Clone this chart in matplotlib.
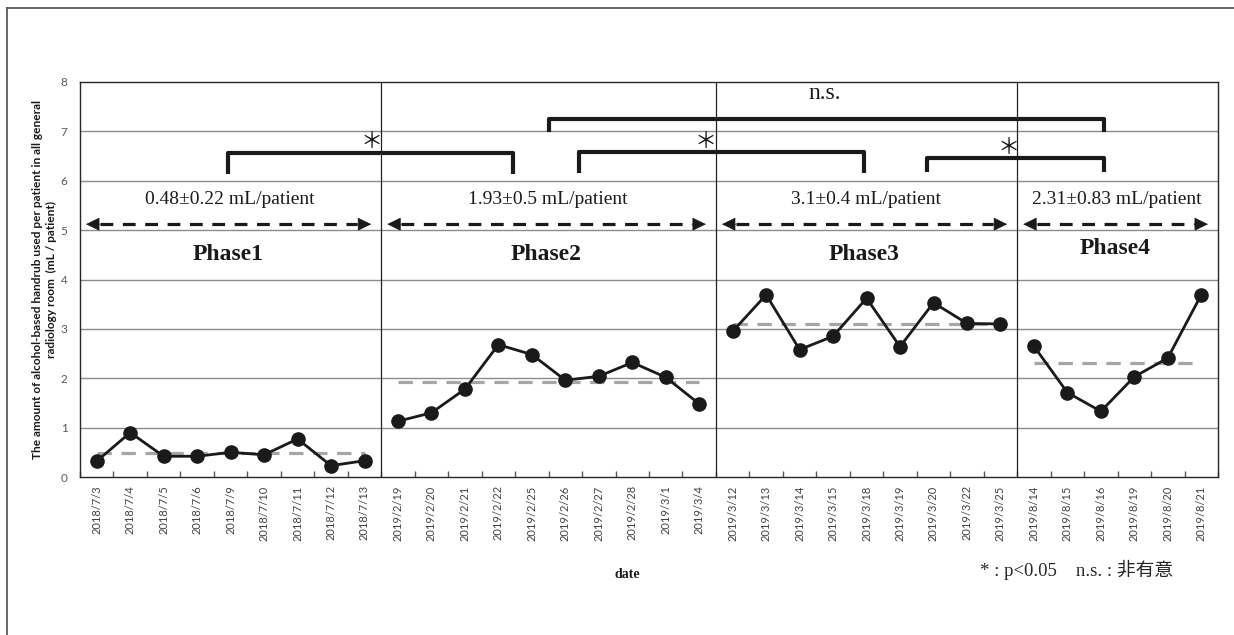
import matplotlib
matplotlib.use("Agg")
import matplotlib.pyplot as plt
import numpy as np

# ---- data -------------------------------------------------------------
phase1_dates = ["2018/7/3", "2018/7/4", "2018/7/5", "2018/7/6", "2018/7/9",
                "2018/7/10", "2018/7/11", "2018/7/12", "2018/7/13"]
phase1_values = [0.32, 0.90, 0.42, 0.42, 0.50, 0.45, 0.77, 0.23, 0.33]

phase2_dates = ["2019/2/19", "2019/2/20", "2019/2/21", "2019/2/22", "2019/2/25",
                "2019/2/26", "2019/2/27", "2019/2/28", "2019/3/1", "2019/3/4"]
phase2_values = [1.13, 1.30, 1.78, 2.68, 2.48, 1.96, 2.04, 2.32, 2.02, 1.48]

phase3_dates = ["2019/3/12", "2019/3/13", "2019/3/14", "2019/3/15", "2019/3/18",
                "2019/3/19", "2019/3/20", "2019/3/22", "2019/3/25"]
phase3_values = [2.95, 3.69, 2.58, 2.85, 3.62, 2.64, 3.53, 3.11, 3.10]

phase4_dates = ["2019/8/14", "2019/8/15", "2019/8/16", "2019/8/19", "2019/8/20",
                "2019/8/21"]
phase4_values = [2.65, 1.71, 1.33, 2.03, 2.41, 3.69]

phase_names = ["Phase1", "Phase2", "Phase3", "Phase4"]
phase_means = [0.48, 1.93, 3.1, 2.31]
phase_sds = [0.22, 0.5, 0.4, 0.83]
phase_stat_labels = ["0.48\u00b10.22 mL/patient", "1.93\u00b10.5 mL/patient",
                     "3.1\u00b10.4 mL/patient", "2.31\u00b10.83 mL/patient"]

ylabel_text = ("The amount of alcohol-based handrub used per patient in all general\n"
               "radiology room  (mL / patient)")
xlabel_text = "date"
note_text = "* : p<0.05    n.s. : \u975e\u6709\u610f"

# ---- figure -----------------------------------------------------------
fig = plt.figure(figsize=(12.34, 6.35), dpi=100)
ax = fig.add_axes([80 / 1234, 1 - 477 / 635, (1218 - 80) / 1234, (477 - 82) / 635])

dates = phase1_dates + phase2_dates + phase3_dates + phase4_dates
phases = [(phase1_dates, phase1_values), (phase2_dates, phase2_values),
          (phase3_dates, phase3_values), (phase4_dates, phase4_values)]

n = len(dates)
ax.set_xlim(-0.5, n - 0.5)
ax.set_ylim(0, 8)

# horizontal gridlines
for yv in range(1, 8):
    ax.axhline(yv, color="#8c8c8c", lw=1.0, zorder=1)

sans = ["Lato", "DejaVu Sans"]
serif = ["Liberation Serif", "Noto Sans CJK JP"]
cjk = ["Noto Sans CJK JP", "DejaVu Sans"]

start = 0
bounds = []
for (d, v) in phases:
    bounds.append((start - 0.5, start + len(d) - 0.5))
    start += len(d)

for k, ((d, v), (b0, b1)) in enumerate(zip(phases, bounds)):
    xs = np.arange(b0 + 0.5, b1)
    # phase mean
    ax.plot([xs[0], xs[-1]], [phase_means[k]] * 2, color="#a6a6a6", lw=2.3,
            dashes=(4.5, 3.0), zorder=3)
    # daily values
    ax.plot(xs, v, color="#1a1a1a", lw=2.0, marker="o", ms=9.5,
            markerfacecolor="#1a1a1a", markeredgecolor="#1a1a1a", zorder=4)
    # phase divider
    if k > 0:
        ax.axvline(b0, color="#222222", lw=0.9, zorder=2)
    cx = (b0 + b1) / 2
    ax.text(cx - 0.08, 4.5 if k < 3 else 4.62, phase_names[k], ha="center",
            va="center", fontsize=17, fontweight="bold", family=serif,
            color="#1a1a1a")
    ax.text(cx - 0.03, 5.62, phase_stat_labels[k], ha="center", va="center",
            fontsize=14, family=serif, color="#1a1a1a")
    # double-headed dashed arrow across the phase
    a0, a1, ay = b0 + 0.18, b1 - 0.3, 5.12
    h = 0.42
    ax.plot([a0 + h, a1 - h], [ay, ay], color="#1a1a1a", lw=2.3,
            dashes=(4.0, 3.0), zorder=3, solid_capstyle="butt")
    for tip, tail in ((a0, a0 + h), (a1, a1 - h)):
        ax.annotate("", xy=(tip, ay), xytext=(tail, ay),
                    arrowprops=dict(arrowstyle="-|>,head_length=0.55,head_width=0.27",
                                    color="#1a1a1a", lw=0.5, shrinkA=0, shrinkB=0,
                                    mutation_scale=16), zorder=4)

# significance brackets: (left, right, top, leg bottom, label, label x, label y)
brackets = [
    (3.93, 12.45, 6.57, 6.13, "\uff0a", 8.23, 6.80),
    (14.40, 22.91, 6.59, 6.15, "\uff0a", 18.20, 6.80),
    (24.82, 30.08, 6.47, 6.18, "\uff0a", 27.24, 6.68),
    (13.51, 30.08, 7.26, 6.99, "n.s.", 21.74, 7.76),
]
for l, r, t, b, lab, lx, ly in brackets:
    ax.plot([l, l, r, r], [b, t, t, b], color="#1a1a1a", lw=3.0,
            solid_joinstyle="round", solid_capstyle="butt", zorder=5)
    if lab == "n.s.":
        ax.text(lx, ly, lab, ha="center", va="center", fontsize=17,
                family=serif, color="#1a1a1a")
    else:
        ax.text(lx, ly, lab, ha="center", va="center", fontsize=16,
                family=cjk, color="#1a1a1a")

# axes styling
for s in ax.spines.values():
    s.set_color("#262626")
    s.set_linewidth(1.0)
ax.set_yticks(range(0, 9))
ax.set_yticklabels([str(i) for i in range(0, 9)], family=sans, fontsize=8.5,
                   color="#595959")
ax.tick_params(axis="y", length=0, pad=9)

ax.set_xticks(np.arange(n))
ax.set_xticklabels(dates, rotation=90, family=sans, fontsize=8, color="#404040")
ax.tick_params(axis="x", which="major", length=0, pad=6)
ax.set_xticks(np.arange(-0.5, n), minor=True)
ax.tick_params(axis="x", which="minor", direction="in", length=4, color="#595959",
               width=1.0)

ax.set_ylabel(ylabel_text, family=sans, fontsize=8.6, fontweight="bold",
              color="#1a1a1a", labelpad=2.5, linespacing=1.35)
fig.text(627 / 1234, 1 - 575 / 635, xlabel_text, ha="center", va="center",
         fontsize=10, fontweight="bold", family=serif, color="#1a1a1a")
fig.text(1077 / 1234, 1 - 570 / 635, note_text, ha="center", va="center",
         fontsize=13.5, family=serif, color="#262626")

# frame around the whole chart
fig.add_artist(plt.Line2D([7 / 1234, 7 / 1234], [0, 1 - 8 / 635],
                          transform=fig.transFigure, color="#5a5a5a", lw=1.3))
fig.add_artist(plt.Line2D([7 / 1234, 1], [1 - 8 / 635, 1 - 8 / 635],
                          transform=fig.transFigure, color="#5a5a5a", lw=1.3))

fig.savefig("out.png", dpi=100)
